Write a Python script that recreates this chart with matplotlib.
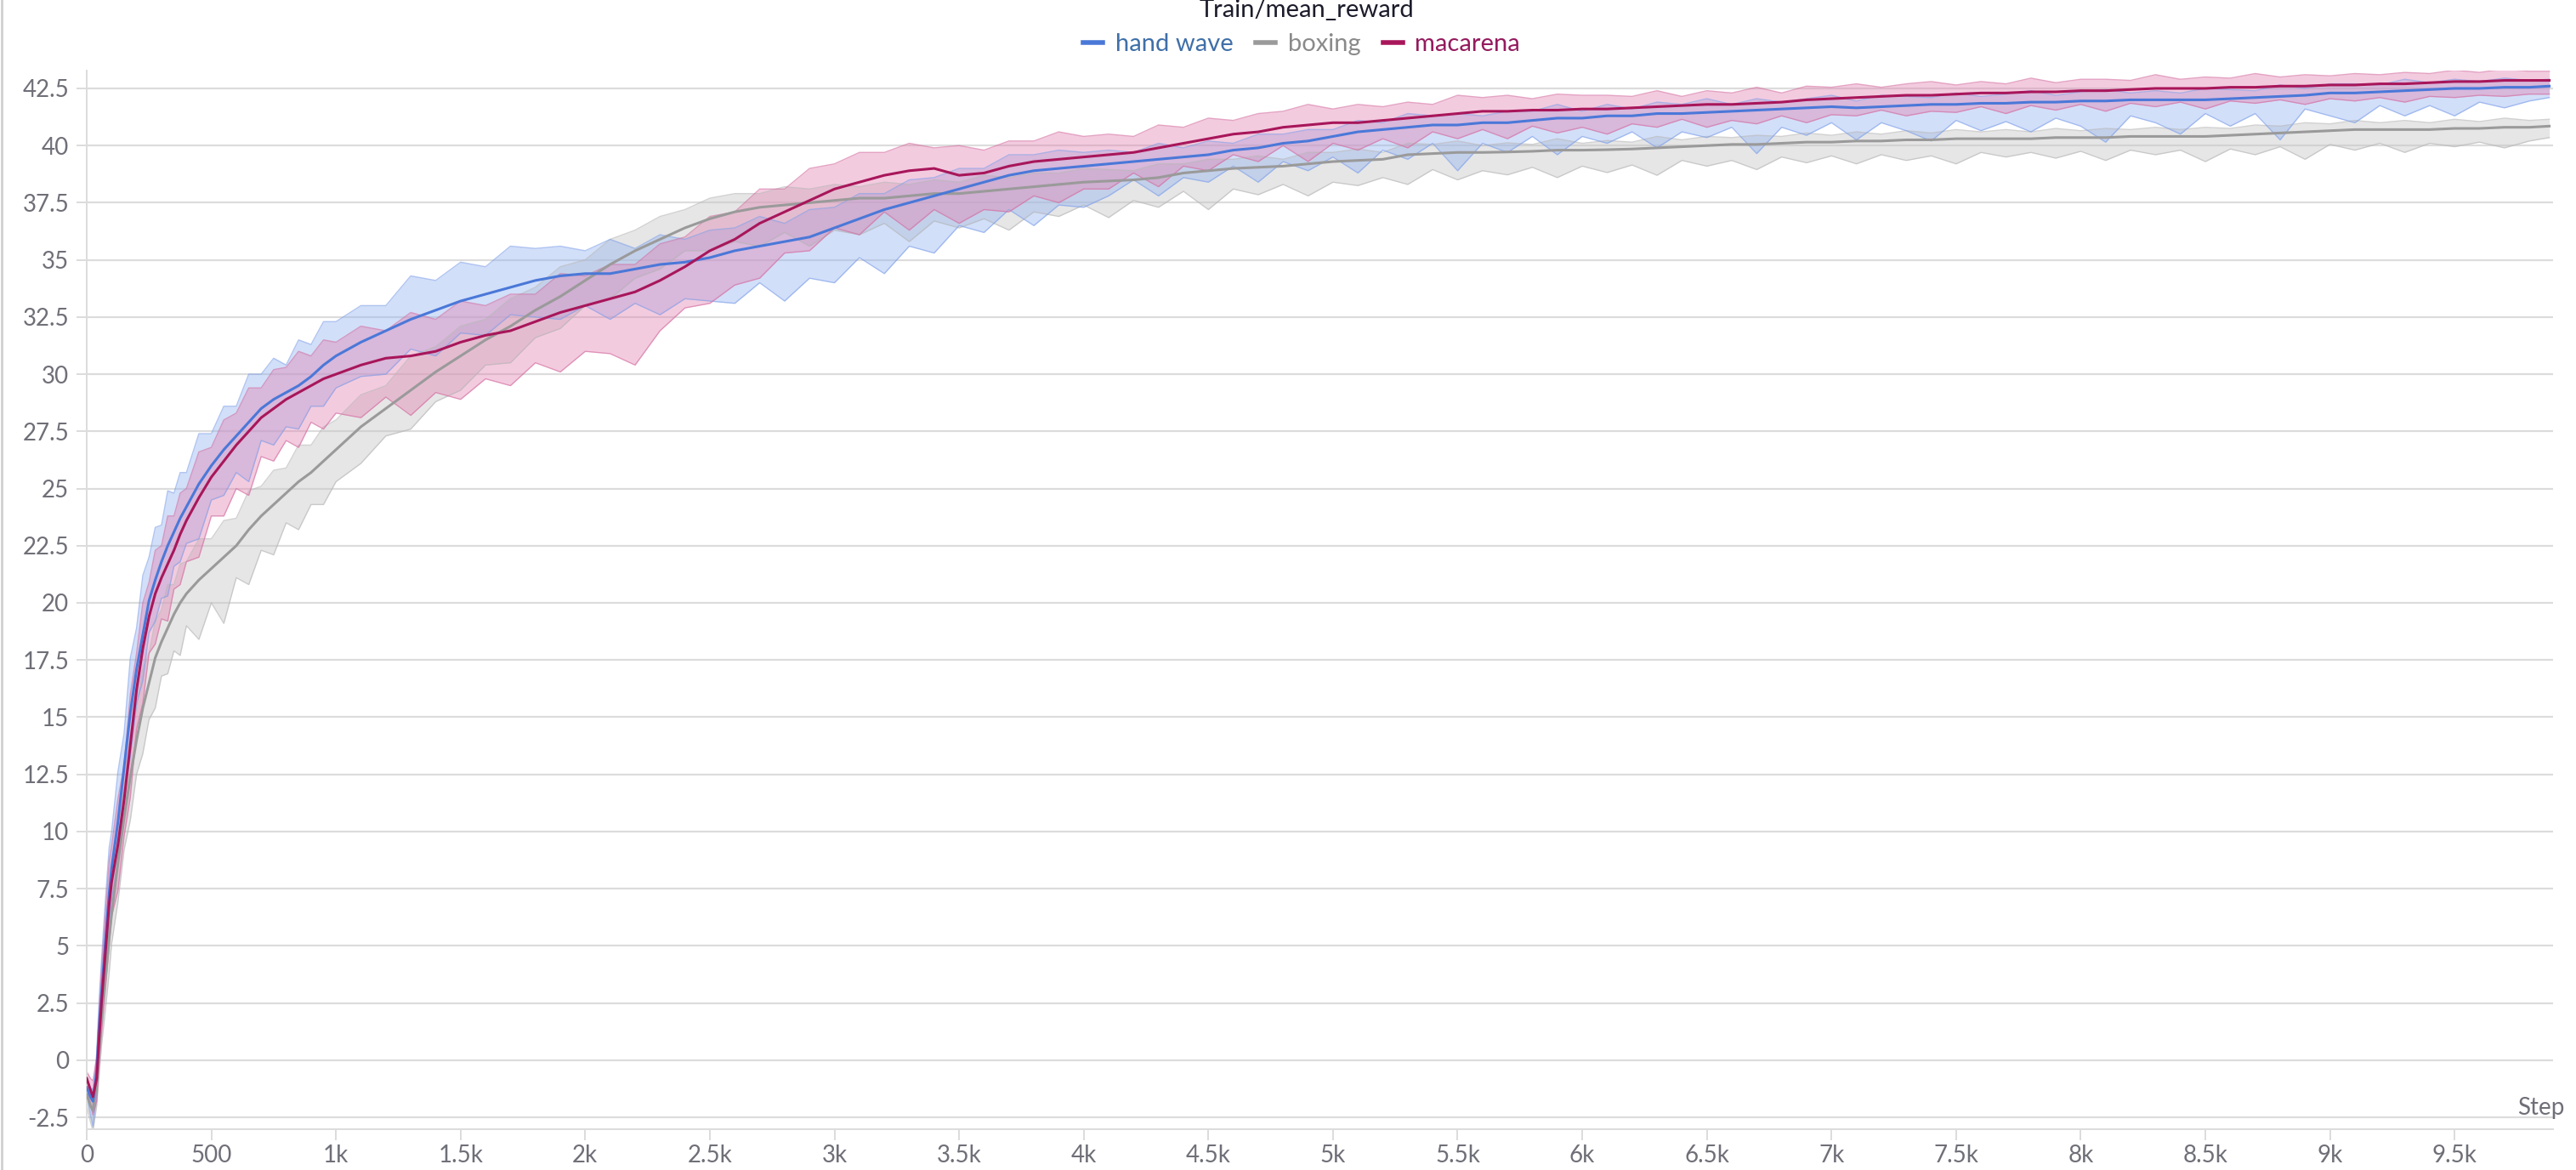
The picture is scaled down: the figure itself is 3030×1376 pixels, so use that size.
import numpy as np
import matplotlib
matplotlib.use("Agg")
import matplotlib.pyplot as plt
from matplotlib.lines import Line2D
from matplotlib.ticker import FuncFormatter

plt.rcParams['font.family'] = ['Lato', 'DejaVu Sans']

# ---------------- data ----------------
steps = [0, 15, 25, 40, 50, 60, 75, 90, 100, 125, 150, 175, 200, 225, 250, 275, 300, 325,
         350, 375, 400, 450, 500, 550, 600, 650, 700, 750, 800, 850, 900, 950, 1000,
         1100, 1200, 1300, 1400, 1500, 1600, 1700, 1800, 1900, 2000,
         2100, 2200, 2300, 2400, 2500, 2600, 2700, 2800, 2900, 3000,
         3100, 3200, 3300, 3400, 3500, 3600, 3700, 3800, 3900, 4000,
         4100, 4200, 4300, 4400, 4500, 4600, 4700, 4800, 4900, 5000,
         5100, 5200, 5300, 5400, 5500, 5600, 5700, 5800, 5900, 6000,
         6100, 6200, 6300, 6400, 6500, 6600, 6700, 6800, 6900, 7000,
         7100, 7200, 7300, 7400, 7500, 7600, 7700, 7800, 7900, 8000,
         8100, 8200, 8300, 8400, 8500, 8600, 8700, 8800, 8900, 9000,
         9100, 9200, 9300, 9400, 9500, 9600, 9700, 9800, 9880]

hand_wave_mean = [-1.2, -1.6, -1.8, -0.5, 1.5, 3.0, 5.2, 7.3, 8.4, 10.4, 12.8, 15.2, 17.1, 18.6, 20.1, 21.0, 21.8, 22.5,
                  23.1, 23.7, 24.2, 25.2, 26.0, 26.7, 27.3, 27.9, 28.5, 28.9, 29.2, 29.5, 29.9, 30.4, 30.8,
                  31.4, 31.9, 32.4, 32.8, 33.2, 33.5, 33.8, 34.1, 34.3, 34.4,
                  34.4, 34.6, 34.8, 34.9, 35.1, 35.4, 35.6, 35.8, 36.0, 36.4,
                  36.8, 37.2, 37.5, 37.8, 38.1, 38.4, 38.7, 38.9, 39.0, 39.1,
                  39.2, 39.3, 39.4, 39.5, 39.6, 39.8, 39.9, 40.1, 40.2, 40.4,
                  40.6, 40.7, 40.8, 40.9, 40.9, 41.0, 41.0, 41.1, 41.2, 41.2,
                  41.3, 41.3, 41.4, 41.4, 41.45, 41.5, 41.55, 41.6, 41.65, 41.7,
                  41.65, 41.7, 41.75, 41.8, 41.8, 41.85, 41.85, 41.9, 41.9, 41.95,
                  41.95, 42.0, 42.0, 42.0, 42.0, 42.05, 42.1, 42.15, 42.2, 42.3,
                  42.3, 42.35, 42.4, 42.45, 42.5, 42.5, 42.55, 42.55, 42.6]
hand_wave_hi = [0.3, 0.4, 0.5, 0.8, 1.2, 1.5, 1.8, 2.0, 1.6, 2.2, 1.5, 2.4, 1.8, 2.6, 1.9, 2.3, 1.6, 2.4,
                1.7, 2.0, 1.5, 2.2, 1.4, 1.9, 1.3, 2.1, 1.5, 1.8, 1.2, 2.0, 1.4, 1.9, 1.5,
                1.6, 1.1, 1.9, 1.3, 1.7, 1.2, 1.8, 1.4, 1.3, 1.0,
                1.5, 0.9, 1.3, 1.0, 1.2, 1.0, 1.3, 0.8, 1.2, 0.9,
                1.1, 0.7, 1.0, 0.8, 0.9, 0.6, 0.9, 0.7, 0.8, 0.6,
                0.6, 0.4, 0.7, 0.4, 0.6, 0.3, 0.6, 0.4, 0.5, 0.3,
                0.5, 0.3, 0.6, 0.4, 0.5, 0.3, 0.5, 0.4, 0.6, 0.3,
                0.5, 0.3, 0.5, 0.4, 0.6, 0.3, 0.5, 0.3, 0.4, 0.5,
                0.3, 0.5, 0.4, 0.3, 0.5, 0.3, 0.4, 0.5, 0.3, 0.4,
                0.5, 0.3, 0.4, 0.3, 0.5, 0.4, 0.3, 0.5, 0.3, 0.4,
                0.4, 0.3, 0.5, 0.3, 0.4, 0.3, 0.4, 0.3, 0.3]
hand_wave_lo = [0.3, 0.8, 1.1, 1.0, 1.2, 1.3, 1.5, 1.6, 1.4, 1.8, 1.3, 1.9, 1.5, 2.0, 1.4, 1.8, 1.6, 2.2,
                1.5, 1.9, 1.6, 2.4, 1.5, 2.0, 1.6, 2.6, 1.4, 2.0, 1.5, 1.9, 1.3, 1.8, 1.4,
                1.5, 1.9, 1.3, 2.0, 1.4, 1.8, 1.2, 1.6, 1.9, 1.4,
                2.0, 1.5, 2.2, 1.6, 1.9, 2.3, 1.6, 2.6, 1.8, 2.4,
                1.7, 2.8, 1.9, 2.5, 1.6, 2.2, 1.5, 2.4, 1.6, 1.8,
                1.4, 0.8, 1.6, 0.9, 1.2, 0.7, 1.5, 0.8, 1.3, 0.9,
                1.8, 0.9, 1.4, 0.8, 2.0, 0.9, 1.3, 0.7, 1.6, 0.8,
                1.2, 0.7, 1.5, 0.8, 1.1, 0.7, 1.9, 0.8, 1.2, 0.7,
                1.4, 0.7, 1.1, 1.6, 0.7, 1.2, 0.8, 1.3, 0.7, 1.1,
                1.8, 0.7, 1.0, 1.5, 0.6, 1.2, 0.7, 1.9, 0.6, 1.0,
                1.3, 0.6, 1.1, 0.7, 1.2, 0.6, 0.9, 0.6, 0.5]

boxing_mean = [-1.5, -2.0, -2.2, -1.0, 0.5, 2.0, 3.6, 5.3, 6.4, 8.6, 10.6, 12.4, 14.0, 15.4, 16.5, 17.6, 18.3, 18.9,
               19.5, 20.0, 20.4, 21.0, 21.5, 22.0, 22.5, 23.2, 23.8, 24.3, 24.8, 25.3, 25.7, 26.2, 26.7,
               27.7, 28.5, 29.3, 30.1, 30.8, 31.5, 32.1, 32.8, 33.4, 34.1,
               34.8, 35.4, 35.9, 36.4, 36.8, 37.1, 37.3, 37.4, 37.5, 37.6,
               37.7, 37.7, 37.8, 37.9, 37.9, 38.0, 38.1, 38.2, 38.3, 38.4,
               38.45, 38.5, 38.6, 38.8, 38.9, 39.0, 39.05, 39.1, 39.2, 39.3,
               39.35, 39.4, 39.6, 39.65, 39.7, 39.7, 39.72, 39.75, 39.8, 39.8,
               39.82, 39.85, 39.9, 39.95, 40.0, 40.05, 40.05, 40.1, 40.15, 40.15,
               40.2, 40.2, 40.25, 40.25, 40.3, 40.3, 40.3, 40.3, 40.35, 40.35,
               40.35, 40.4, 40.4, 40.4, 40.4, 40.45, 40.5, 40.55, 40.6, 40.65,
               40.7, 40.7, 40.7, 40.7, 40.75, 40.75, 40.8, 40.8, 40.85]
boxing_hi = [0.3, 0.4, 0.6, 0.8, 1.0, 1.2, 1.3, 1.5, 1.4, 1.6, 1.3, 1.8, 1.4, 1.7, 1.3, 1.6, 1.4, 1.9,
             1.3, 1.7, 1.4, 1.8, 1.3, 1.6, 1.2, 1.7, 1.3, 1.5, 1.1, 1.6, 1.2, 1.5, 1.3,
             1.4, 1.0, 1.5, 1.1, 1.3, 0.9, 1.2, 1.0, 1.3, 0.9,
             1.1, 0.9, 1.0, 0.8, 0.9, 0.8, 0.6, 0.8, 0.6, 0.7,
             0.5, 0.7, 0.5, 0.6, 0.5, 0.7, 0.5, 0.6, 0.5, 0.6,
             0.5, 0.4, 0.6, 0.4, 0.5, 0.4, 0.5, 0.3, 0.5, 0.4,
             0.5, 0.3, 0.5, 0.4, 0.5, 0.3, 0.4, 0.3, 0.5, 0.3,
             0.4, 0.3, 0.5, 0.3, 0.4, 0.3, 0.4, 0.3, 0.4, 0.3,
             0.4, 0.3, 0.4, 0.3, 0.4, 0.3, 0.4, 0.3, 0.4, 0.3,
             0.4, 0.3, 0.4, 0.3, 0.4, 0.3, 0.4, 0.3, 0.4, 0.3,
             0.4, 0.3, 0.4, 0.3, 0.4, 0.3, 0.4, 0.3, 0.3]
boxing_lo = [0.5, 0.7, 0.9, 1.0, 1.1, 1.3, 1.4, 1.5, 1.3, 1.7, 1.4, 1.9, 1.5, 2.0, 1.6, 2.2, 1.5, 2.0,
             1.6, 2.3, 1.4, 2.6, 1.5, 2.9, 1.4, 2.4, 1.5, 2.2, 1.3, 2.1, 1.4, 1.9, 1.4,
             1.6, 1.2, 1.7, 1.3, 1.5, 1.1, 1.6, 1.2, 1.4, 1.1,
             1.5, 1.2, 1.3, 1.0, 1.4, 1.3, 1.7, 1.2, 1.9, 1.3,
             1.6, 1.1, 2.0, 1.2, 1.5, 1.2, 1.8, 1.1, 1.4, 1.0,
             1.6, 0.9, 1.3, 0.8, 1.7, 0.9, 1.2, 0.8, 1.4, 0.9,
             1.1, 0.8, 1.3, 0.7, 1.2, 0.8, 1.0, 0.7, 1.2, 0.7,
             1.0, 0.7, 1.2, 0.6, 0.9, 0.7, 1.1, 0.6, 0.9, 0.6,
             1.0, 0.6, 0.9, 0.7, 1.1, 0.6, 0.8, 0.6, 0.9, 0.6,
             1.0, 0.6, 0.8, 0.6, 1.1, 0.6, 0.9, 0.6, 1.2, 0.6,
             0.9, 0.6, 1.0, 0.6, 0.8, 0.6, 0.9, 0.6, 0.5]

macarena_mean = [-0.8, -1.3, -1.6, -0.8, 1.0, 2.6, 4.7, 6.8, 7.8, 9.4, 11.4, 13.8, 16.2, 18.0, 19.4, 20.4, 21.1, 21.7,
                 22.3, 23.0, 23.6, 24.6, 25.5, 26.2, 26.9, 27.5, 28.1, 28.5, 28.9, 29.2, 29.5, 29.8, 30.0,
                 30.4, 30.7, 30.8, 31.0, 31.4, 31.7, 31.9, 32.3, 32.7, 33.0,
                 33.3, 33.6, 34.1, 34.7, 35.4, 35.9, 36.6, 37.1, 37.6, 38.1,
                 38.4, 38.7, 38.9, 39.0, 38.7, 38.8, 39.1, 39.3, 39.4, 39.5,
                 39.6, 39.7, 39.9, 40.1, 40.3, 40.5, 40.6, 40.8, 40.9, 41.0,
                 41.0, 41.1, 41.2, 41.3, 41.4, 41.5, 41.5, 41.55, 41.55, 41.6,
                 41.6, 41.65, 41.7, 41.75, 41.8, 41.8, 41.85, 41.9, 42.0, 42.05,
                 42.1, 42.15, 42.2, 42.2, 42.25, 42.3, 42.3, 42.35, 42.35, 42.4,
                 42.4, 42.45, 42.5, 42.5, 42.5, 42.55, 42.55, 42.6, 42.6, 42.65,
                 42.65, 42.7, 42.7, 42.75, 42.8, 42.8, 42.85, 42.85, 42.85]
macarena_hi = [0.3, 0.5, 0.7, 0.9, 1.2, 1.5, 1.7, 1.9, 1.6, 2.0, 1.5, 2.2, 1.6, 2.0, 1.5, 1.9, 1.4, 2.1,
               1.5, 1.8, 1.4, 2.0, 1.3, 1.8, 1.4, 1.9, 1.3, 1.7, 1.4, 1.8, 1.3, 1.7, 1.4,
               1.7, 1.2, 1.9, 1.4, 1.8, 1.3, 1.6, 1.2, 1.7, 1.3,
               1.5, 1.2, 1.6, 1.3, 1.5, 1.2, 1.5, 1.0, 1.4, 1.1,
               1.3, 1.0, 1.2, 0.9, 1.3, 1.0, 1.1, 0.9, 1.2, 0.9,
               0.9, 0.7, 1.0, 0.7, 0.9, 0.6, 0.8, 0.7, 0.9, 0.6,
               0.8, 0.6, 0.7, 0.5, 0.8, 0.6, 0.7, 0.5, 0.7, 0.6,
               0.6, 0.5, 0.7, 0.4, 0.6, 0.5, 0.7, 0.4, 0.6, 0.5,
               0.6, 0.4, 0.5, 0.6, 0.4, 0.5, 0.4, 0.6, 0.4, 0.5,
               0.5, 0.4, 0.6, 0.4, 0.5, 0.4, 0.6, 0.4, 0.5, 0.4,
               0.5, 0.4, 0.5, 0.4, 0.5, 0.4, 0.5, 0.4, 0.4]
macarena_lo = [0.5, 0.6, 0.8, 1.0, 1.2, 1.4, 1.6, 1.8, 1.5, 2.0, 1.6, 2.3, 1.7, 2.4, 1.6, 2.2, 1.8, 2.5,
               1.7, 2.2, 1.8, 2.6, 1.7, 2.4, 1.9, 2.8, 1.7, 2.3, 1.8, 2.4, 1.6, 2.2, 1.7,
               2.3, 1.7, 2.6, 1.8, 2.5, 1.9, 2.4, 1.8, 2.6, 2.0,
               2.4, 3.2, 2.2, 1.8, 2.3, 2.0, 2.4, 1.8, 2.2, 1.7,
               2.3, 1.6, 2.6, 1.8, 2.1, 1.6, 2.0, 1.5, 1.9, 1.4,
               1.5, 0.9, 1.7, 1.0, 1.4, 0.9, 1.3, 0.8, 1.6, 0.9,
               1.2, 0.8, 1.3, 0.7, 1.1, 0.8, 1.2, 0.7, 1.0, 0.8,
               1.1, 0.7, 0.9, 0.6, 1.0, 0.7, 0.9, 0.6, 1.0, 0.7,
               0.8, 0.6, 0.9, 0.7, 0.8, 0.6, 0.9, 0.6, 0.8, 0.6,
               0.9, 0.6, 0.8, 0.6, 0.9, 0.6, 0.7, 0.6, 0.8, 0.6,
               0.7, 0.6, 0.8, 0.6, 0.7, 0.6, 0.7, 0.6, 0.6]

series_names = ["hand wave", "boxing", "macarena"]
y_ticks = [-2.5, 0, 2.5, 5, 7.5, 10, 12.5, 15, 17.5, 20, 22.5, 25, 27.5, 30, 32.5, 35, 37.5, 40, 42.5]
x_ticks = [0, 500, 1000, 1500, 2000, 2500, 3000, 3500, 4000, 4500, 5000, 5500, 6000, 6500, 7000,
           7500, 8000, 8500, 9000, 9500]

# ---------------- style ----------------
W, H = 3030, 1376
DPI = 100
fig = plt.figure(figsize=(W / DPI, H / DPI), dpi=DPI, facecolor="white")
ax = fig.add_axes([102 / W, 1 - 1328 / H, (3003 - 102) / W, (1328 - 83) / H])

tick_col = "#6f6f78"
grid_col = "#dcdcdc"

styles = {
    "boxing":    dict(line="#9a9a9a", band="#c8c8c8", edge="#b5b5b5", text="#8a8a8a", balpha=0.45),
    "hand wave": dict(line="#4a78d8", band="#8fb0f2", edge="#7d9ee8", text="#3f6fa8", balpha=0.40),
    "macarena":  dict(line="#a8165a", band="#e37fb0", edge="#d26a9e", text="#941b5e", balpha=0.40),
}

data = {
    "hand wave": (hand_wave_mean, hand_wave_lo, hand_wave_hi),
    "boxing": (boxing_mean, boxing_lo, boxing_hi),
    "macarena": (macarena_mean, macarena_lo, macarena_hi),
}

x = np.array(steps, dtype=float)
for name in ["boxing", "hand wave", "macarena"]:
    m, lo, hi = (np.array(a, dtype=float) for a in data[name])
    st = styles[name]
    ax.fill_between(x, m - lo, m + hi, color=st["band"], alpha=st["balpha"], lw=0, zorder=2)
    ax.plot(x, m + hi, color=st["edge"], lw=1.0, alpha=0.6, zorder=2.5)
    ax.plot(x, m - lo, color=st["edge"], lw=1.0, alpha=0.6, zorder=2.5)
for name in ["boxing", "hand wave", "macarena"]:
    m = np.array(data[name][0], dtype=float)
    ax.plot(x, m, color=styles[name]["line"], lw=2.2, zorder=3)

ax.set_xlim(0, 9895)
ax.set_ylim(-3.02, 43.28)
ax.set_yticks(y_ticks)
ax.set_xticks(x_ticks)


def yfmt(v, pos):
    return f"{v:g}"


def xfmt(v, pos):
    if v == 0:
        return "0"
    if v < 1000:
        return f"{v:g}"
    return f"{v / 1000:g}k"


ax.yaxis.set_major_formatter(FuncFormatter(yfmt))
ax.xaxis.set_major_formatter(FuncFormatter(xfmt))
ax.grid(axis="y", color=grid_col, lw=1.6, zorder=0)
ax.set_axisbelow(True)
for s in ["top", "right"]:
    ax.spines[s].set_visible(False)
for s in ["left", "bottom"]:
    ax.spines[s].set_color(grid_col)
    ax.spines[s].set_linewidth(1.4)
ax.tick_params(axis="both", colors=grid_col, labelcolor=tick_col, labelsize=20, length=9, width=1.4)
ax.tick_params(axis="y", pad=6)
ax.tick_params(axis="x", pad=4)

# Step label
fig.text(3016 / W, 1 - 1303 / H, "Step", ha="right", va="center", fontsize=20, color=tick_col)

# Title
fig.text(1537 / W, 1 - 12 / H, "Train/mean_reward", ha="center", va="center", fontsize=21, color="#1c1c2b")

# Legend
handles = [Line2D([0], [0], color=styles[n]["line"], lw=4) for n in series_names]
leg = fig.legend(handles, series_names, loc="center", bbox_to_anchor=(1531 / W, 1 - 52 / H), ncol=3,
                 frameon=False, fontsize=21, handlelength=0.8, handletextpad=0.5, columnspacing=0.9,
                 borderaxespad=0, borderpad=0)
for t, n in zip(leg.get_texts(), series_names):
    t.set_color(styles[n]["text"])

# faint left border of the panel
fig.add_artist(Line2D([1.5 / W, 1.5 / W], [0, 1], transform=fig.transFigure, color="#d0d0d0", lw=2))

fig.savefig("out.png", dpi=DPI, facecolor="white")
